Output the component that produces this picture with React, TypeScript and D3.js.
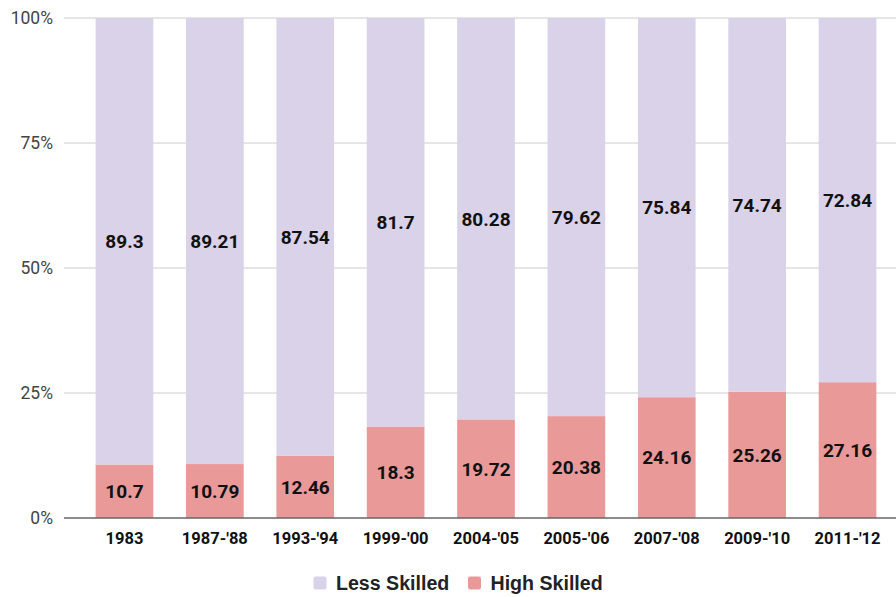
import React from "react";
import * as d3 from "d3";

const categories = ["1983", "1987-'88", "1993-'94", "1999-'00", "2004-'05", "2005-'06", "2007-'08", "2009-'10", "2011-'12"];
const highSkilled = [10.7, 10.79, 12.46, 18.3, 19.72, 20.38, 24.16, 25.26, 27.16];
const lessSkilled = [89.3, 89.21, 87.54, 81.7, 80.28, 79.62, 75.84, 74.74, 72.84];
const seriesNames = ["High Skilled", "Less Skilled"];
const seriesColors = ["#ea9999", "#d9d2e9"];
const yTicks = [0, 0.25, 0.5, 0.75, 1];

const W = 896;
const H = 597;

export default function App() {
  const x = d3.scaleBand<string>().domain(categories).range([64, 908]).paddingInner(0.362).paddingOuter(0.35);
  const y = d3.scaleLinear().domain([0, 1]).range([518, 18]);

  const rows = categories.map((c, i) => ({ cat: c, high: highSkilled[i], less: lessSkilled[i] }));
  const stack = d3.stack<any>().keys(["high", "less"]).offset(d3.stackOffsetExpand);
  const layers = stack(rows);
  const rawVals = [highSkilled, lessSkilled];

  return (
    <svg width={W} height={H} style={{ display: "block", position: "absolute", left: 0, top: 0 }}>
      <rect width={W} height={H} fill="#fff" />
      {yTicks.map((t) =>
        t === 0 ? null : (
          <line key={t} x1={64} x2={W} y1={y(t)} y2={y(t)} stroke="#cccccc" strokeWidth={1} />
        )
      )}
      {yTicks.map((t) => (
        <text key={"l" + t} x={53} y={y(t)} dy="0.37em" textAnchor="end" fontFamily="Roboto" fontSize={17.5} fill="#444">
          {d3.format(".0%")(t)}
        </text>
      ))}
      {layers.map((layer, li) => (
        <g key={li}>
          {layer.map((d, i) => (
            <rect
              key={i}
              x={x(categories[i])}
              width={x.bandwidth()}
              y={y(d[1])}
              height={y(d[0]) - y(d[1])}
              fill={seriesColors[li]}
            />
          ))}
        </g>
      ))}
      {layers.map((layer, li) => (
        <g key={"v" + li}>
          {layer.map((d, i) => (
            <text
              key={i}
              x={(x(categories[i]) as number) + x.bandwidth() / 2}
              y={(y(d[0]) + y(d[1])) / 2}
              dy="0.36em"
              textAnchor="middle"
              fontFamily="Roboto"
              fontWeight="bold"
              fontSize={19}
              fill="#111"
            >
              {rawVals[li][i]}
            </text>
          ))}
        </g>
      ))}
      <line x1={64} x2={W} y1={y(0)} y2={y(0)} stroke="#666" strokeWidth={1.5} />
      {categories.map((c) => (
        <text
          key={c}
          x={(x(c) as number) + x.bandwidth() / 2}
          y={544}
          textAnchor="middle"
          fontFamily="Roboto"
          fontWeight="bold"
          fontSize={16.5}
          fill="#111"
        >
          {c}
        </text>
      ))}
      {/* legend */}
      {[
        { name: seriesNames[1], color: seriesColors[1], sx: 313.5, tx: 336 },
        { name: seriesNames[0], color: seriesColors[0], sx: 468, tx: 490.5 },
      ].map((l) => (
        <g key={l.name}>
          <rect x={l.sx} y={576.5} width={13} height={13} rx={2} fill={l.color} />
          <text x={l.tx} y={590} fontFamily="Liberation Sans, Arial" fontWeight="bold" fontSize={19.6} fill="#222">
            {l.name}
          </text>
        </g>
      ))}
    </svg>
  );
}
